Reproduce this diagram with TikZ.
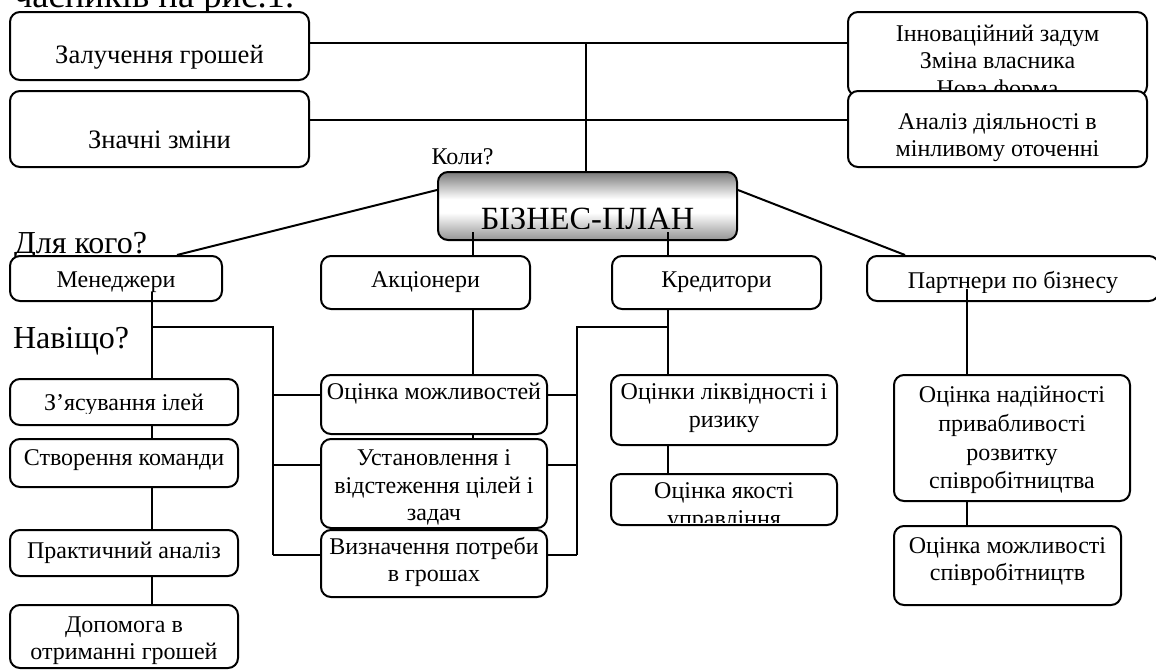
\documentclass[tikz,border=0pt]{standalone}
\usepackage{fontspec}
\setmainfont{Liberation Serif}

\pgfdeclareverticalshading{bpshade}{100bp}{color(0bp)=(black!42); color(25bp)=(black!42);
  color(45bp)=(white); color(55bp)=(white); color(75bp)=(black!52); color(100bp)=(black!52)}

\tikzset{
  box/.style={draw, rounded corners=5pt, fill=white, inner sep=0pt},
  txt/.style 2 args={path picture={
    \node[align=center] at ([yshift=#1]path picture bounding box.center) {#2};}},
  cuttxt/.style n args={3}{path picture={
    \clip ([yshift=#1]path picture bounding box.south west) rectangle (path picture bounding box.north east);
    \node[align=center] at ([yshift=#2]path picture bounding box.center) {#3};}},
  big/.style={font=\fontsize{16}{18}\selectfont, inner sep=0pt},
}

\begin{document}
\begin{tikzpicture}[x=0.5pt, y=-0.5pt, line width=1pt, font=\fontsize{12}{13.8}\selectfont]
\useasboundingbox (0,0) rectangle (1156,669);
\node[font=\fontsize{18.3}{20}\selectfont, inner sep=0pt, anchor=base west] (uch) at (13,8) {часників на рис.1.};

% коли?
\node[box, font=\fontsize{13.3}{14}\selectfont, minimum width=149.5pt, minimum height=34pt, txt={-5.5pt}{Залучення грошей}] (zal) at (159.5,46) {};
\node[box, font=\fontsize{13.3}{14}\selectfont, minimum width=149.5pt, minimum height=38pt, txt={-5.5pt}{Значні зміни}] (zn) at (159.5,129) {};
\node[box, minimum width=149.5pt, minimum height=42pt, txt={-4.5pt}{Інноваційний задум\\Зміна власника\\Нова форма}] (inn) at (997.5,54) {};
\node[box, minimum width=149.5pt, minimum height=38pt, txt={-4.25pt}{Аналіз діяльності в\\мінливому оточенні}] (an) at (997.5,129) {};
\node (koly) at (462.5,157) {Коли?};

\node[draw, rounded corners=5pt, minimum width=149.5pt, minimum height=34pt, shading=bpshade,
  path picture={\clip ([yshift=6pt]path picture bounding box.south west) rectangle (path picture bounding box.north east);
    \node[anchor=base, font=\fontsize{16.2}{18}\selectfont] at ([yshift=-11.75pt]path picture bounding box.center) {БІЗНЕС-ПЛАН};}] (bp) at (587.5,206) {};

% для кого?
\node[big, anchor=base west] (dk) at (13,253.5) {Для кого?};
\node[box, minimum width=106pt, minimum height=22.5pt, txt={-1.75pt}{Менеджери}] (men) at (116,278.5) {};
\node[box, minimum width=104.5pt, minimum height=26.5pt, txt={0pt}{Акціонери}] (ak) at (425.5,282.5) {};
\node[box, minimum width=104.5pt, minimum height=26.5pt, txt={0pt}{Кредитори}] (kr) at (716.5,282.5) {};
\node[box, minimum width=146pt, minimum height=22.5pt, cuttxt={4.5pt}{-1.75pt}{Партнери по бізнесу}] (par) at (1013,278.5) {};

% навіщо?
\node[big, anchor=base west] (nv) at (12,348) {Навіщо?};
\node[box, minimum width=114pt, minimum height=23pt, cuttxt={6pt}{-1.5pt}{З’ясування ілей}] (zy) at (124,402) {};
\node[box, minimum width=114pt, minimum height=24pt, txt={1.5pt}{Створення команди}] (st) at (124,463) {};
\node[box, minimum width=114pt, minimum height=23pt, txt={0pt}{Практичний аналіз}] (pr) at (124,553) {};
\node[box, minimum width=114pt, minimum height=31.5pt, txt={-2pt}{Допомога в\\отриманні грошей}] (dp) at (124,636.5) {};

\node[box, minimum width=113pt, minimum height=29.5pt, txt={5.25pt}{Оцінка можливостей}] (om) at (434,404.5) {};
\node[box, minimum width=113pt, minimum height=44.5pt, txt={-2pt}{Установлення і\\відстеження цілей і\\задач}] (us) at (434,483.5) {};
\node[box, minimum width=113pt, minimum height=33.5pt, txt={0.75pt}{Визначення потреби\\в грошах}] (vp) at (434,563.5) {};

\node[box, minimum width=113pt, minimum height=35pt, txt={1pt}{Оцінки ліквідності і\\ризику}] (ol) at (724,410) {};
\node[box, minimum width=113pt, minimum height=25.5pt, cuttxt={1.5pt}{-3.75pt}{Оцінка якості\\управління}] (oy) at (724,499.5) {};

\node[box, font=\fontsize{12}{14.35}\selectfont, minimum width=118pt, minimum height=63pt, txt={-1pt}{Оцінка надійності\\привабливості\\розвитку\\співробітництва}] (on) at (1012,438) {};
\node[box, minimum width=113.5pt, minimum height=39.5pt, txt={2pt}{Оцінка можливості\\співробітництв}] (ms) at (1007.5,565.5) {};

% лінії
\coordinate (j1) at (586,43);
\coordinate (j2) at (586,120);
\draw (zal.east |- j1) -- (inn.west |- j1);
\draw (zn.east |- j2) -- (an.west |- j2);
\draw (j1) -- (j1 |- bp.north);
\draw ([yshift=8pt]bp.west) -- ([xshift=30.5pt]men.north);
\draw ([yshift=8pt]bp.east) -- ([xshift=-54pt]par.north);

\coordinate (a1) at (473,232);
\draw (a1) -- (a1 |- ak.north);
\draw (a1 |- ak.south) -- (a1 |- om.north);
\draw (a1 |- om.south) -- (a1 |- us.north);

\coordinate (k1) at (668,232);
\draw (k1) -- (k1 |- kr.north);
\draw (k1 |- kr.south) -- (k1 |- ol.north);
\draw (k1 |- ol.south) -- (k1 |- oy.north);
\coordinate (k2) at (668,327);
\coordinate (k3) at (577,555);
\draw (k2) -| (k3);
\foreach \b/\y in {om/395, us/465, vp/555}
  \draw (\b.east |- 0,\y) -- (k3 |- 0,\y);

\coordinate (m1) at (152,292);
\draw (m1) -- (m1 |- zy.north);
\draw (m1 |- zy.south) -- (m1 |- st.north);
\draw (m1 |- st.south) -- (m1 |- pr.north);
\draw (m1 |- pr.south) -- (m1 |- dp.north);
\coordinate (m2) at (152,327);
\coordinate (m3) at (273,555);
\draw (m2) -| (m3);
\foreach \b/\y in {om/395, us/465, vp/555}
  \draw (\b.west |- 0,\y) -- (m3 |- 0,\y);

\coordinate (p1) at (967,289);
\draw (p1) -- (p1 |- on.north);
\draw (p1 |- on.south) -- (p1 |- ms.north);
\end{tikzpicture}
\end{document}
